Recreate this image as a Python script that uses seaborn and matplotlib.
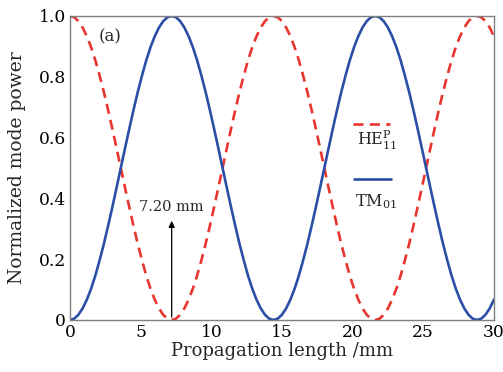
import matplotlib
matplotlib.use("Agg")
import matplotlib.pyplot as plt
import seaborn as sns
import pandas as pd

# Data (every 0.3 mm, 0 .. 30 mm)
x_mm = [round(0.3 * i, 1) for i in range(101)]
he11 = [1.000, 0.996, 0.983, 0.962, 0.933, 0.897, 0.854, 0.804, 0.750, 0.691, 0.629, 0.565,
        0.500, 0.435, 0.371, 0.309, 0.250, 0.196, 0.146, 0.103, 0.067, 0.038, 0.017, 0.004,
        0.000, 0.004, 0.017, 0.038, 0.067, 0.103, 0.146, 0.196, 0.250, 0.309, 0.371, 0.435,
        0.500, 0.565, 0.629, 0.691, 0.750, 0.804, 0.854, 0.897, 0.933, 0.962, 0.983, 0.996,
        1.000, 0.996, 0.983, 0.962, 0.933, 0.897, 0.854, 0.804, 0.750, 0.691, 0.629, 0.565,
        0.500, 0.435, 0.371, 0.309, 0.250, 0.196, 0.146, 0.103, 0.067, 0.038, 0.017, 0.004,
        0.000, 0.004, 0.017, 0.038, 0.067, 0.103, 0.146, 0.196, 0.250, 0.309, 0.371, 0.435,
        0.500, 0.565, 0.629, 0.691, 0.750, 0.804, 0.854, 0.897, 0.933, 0.962, 0.983, 0.996,
        1.000, 0.996, 0.983, 0.962, 0.933]
tm01 = [0.000, 0.004, 0.017, 0.038, 0.067, 0.103, 0.146, 0.196, 0.250, 0.309, 0.371, 0.435,
        0.500, 0.565, 0.629, 0.691, 0.750, 0.804, 0.854, 0.897, 0.933, 0.962, 0.983, 0.996,
        1.000, 0.996, 0.983, 0.962, 0.933, 0.897, 0.854, 0.804, 0.750, 0.691, 0.629, 0.565,
        0.500, 0.435, 0.371, 0.309, 0.250, 0.196, 0.146, 0.103, 0.067, 0.038, 0.017, 0.004,
        0.000, 0.004, 0.017, 0.038, 0.067, 0.103, 0.146, 0.196, 0.250, 0.309, 0.371, 0.435,
        0.500, 0.565, 0.629, 0.691, 0.750, 0.804, 0.854, 0.897, 0.933, 0.962, 0.983, 0.996,
        1.000, 0.996, 0.983, 0.962, 0.933, 0.897, 0.854, 0.804, 0.750, 0.691, 0.629, 0.565,
        0.500, 0.435, 0.371, 0.309, 0.250, 0.196, 0.146, 0.103, 0.067, 0.038, 0.017, 0.004,
        0.000, 0.004, 0.017, 0.038, 0.067]
x_ticks = [0, 5, 10, 15, 20, 25, 30]
y_ticks = [0, 0.2, 0.4, 0.6, 0.8, 1.0]
y_tick_labels = ["0", "0.2", "0.4", "0.6", "0.8", "1.0"]
coupling_length = 7.20

df = pd.DataFrame({"x": x_mm, "he": he11, "tm": tm01})

sns.set_theme(style="white")
plt.rcParams["font.family"] = ["DejaVu Serif"]
plt.rcParams["mathtext.fontset"] = "dejavuserif"

fig = plt.figure(figsize=(5.03, 3.72), dpi=100)
ax = fig.add_axes([0.139, 0.140, 0.843, 0.817])

red = "#e8352f"
blue = "#2b4fa6"
sns.lineplot(data=df, x="x", y="he", ax=ax, color=red, linewidth=1.9,
             linestyle=(0, (3.8, 2.4)))
sns.lineplot(data=df, x="x", y="tm", ax=ax, color=blue, linewidth=1.9)

ax.set_xlim(0, 30)
ax.set_ylim(0, 1.0)
ax.set_xticks(x_ticks)
ax.set_yticks(y_ticks)
ax.set_yticklabels(y_tick_labels)
ax.tick_params(direction="in", length=4, width=0.8, color="#808080",
               labelsize=12.3, pad=3, labelcolor="black")
for s in ax.spines.values():
    s.set_color("#808080")
    s.set_linewidth(1.0)
ax.set_xlabel("Propagation length /mm", fontsize=13, labelpad=1)
ax.set_ylabel("Normalized mode power", fontsize=13.5, labelpad=9)

ax.text(0.067, 0.93, "(a)", transform=ax.transAxes, fontsize=12, ha="left", va="center")

# arrow
ax.annotate("", xy=(coupling_length, 0.335), xytext=(coupling_length, 0.0),
            arrowprops=dict(arrowstyle="-|>", color="black", lw=0.9, mutation_scale=9))
ax.text(coupling_length, 0.37, "7.20 mm", fontsize=10.5, ha="center", va="center")

# legend drawn manually (handle above label)
ax.plot([0.667, 0.755], [0.645, 0.645], transform=ax.transAxes, color=red,
        linewidth=1.9, linestyle=(0, (3.8, 2.4)))
ax.text(0.677, 0.59, r"HE$_{11}^{\mathrm{P}}$", transform=ax.transAxes, fontsize=11.5,
        ha="left", va="center")
ax.plot([0.67, 0.757], [0.465, 0.465], transform=ax.transAxes, color=blue, linewidth=1.9)
ax.text(0.673, 0.39, r"TM$_{01}$", transform=ax.transAxes, fontsize=11.5,
        ha="left", va="center")

fig.savefig("out.png", dpi=100)
